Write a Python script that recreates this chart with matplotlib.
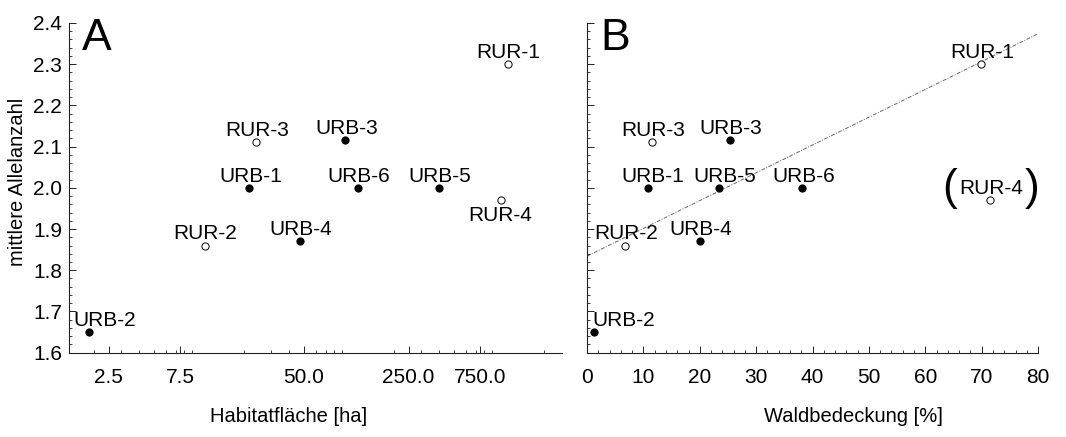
import matplotlib
matplotlib.use("Agg")
from matplotlib import pyplot as plt
from matplotlib.ticker import FixedLocator, FixedFormatter, LogLocator, MultipleLocator, NullFormatter
import numpy as np

plt.rcParams['font.family'] = ['Liberation Sans', 'DejaVu Sans']

# Sites and their values
sites = ['URB-2', 'RUR-2', 'RUR-3', 'URB-1', 'URB-4', 'URB-3', 'URB-6', 'URB-5', 'RUR-4', 'RUR-1']
area_ha = [1.85, 10.9, 24.0, 21.7, 47.3, 94.8, 114.7, 398.0, 1024.0, 1140.0]
forest_pct = [1.3, 6.8, 11.5, 10.8, 20.0, 25.4, 38.2, 23.4, 71.5, 69.9]
alleles = [1.65, 1.86, 2.11, 2.0, 1.87, 2.115, 2.0, 2.0, 1.97, 2.30]

area_ticks = [2.5, 7.5, 50.0, 250.0, 750.0]
area_ticklabels = ['2.5', '7.5', '50.0', '250.0', '750.0']
outlier = 'RUR-4'   # left out of the regression in B

# label offsets (points) where they differ from the default (above, centred)
offs_a = {'URB-2': (-11, 4, 'left', 'baseline'), 'RUR-4': (0, -4, 'center', 'top')}
offs_b = {'URB-2': (-1.5, 4, 'left', 'baseline'), 'URB-1': (3.5, 4.5, 'center', 'baseline'),
          'URB-5': (4.3, 4.5, 'center', 'baseline')}

fig = plt.figure(figsize=(10.66, 4.37), dpi=100)
ax1 = fig.add_axes([0.0647, 0.193, 0.4625, 0.7545])
ax2 = fig.add_axes([0.5507, 0.193, 0.4231, 0.7545], sharey=ax1)


def draw_points(ax, xs, offs):
    for s, x, y in zip(sites, xs, alleles):
        rural = s.startswith('RUR')
        ax.plot(x, y, 'o', ms=5.2 if rural else 5.2, mfc='white' if rural else 'black',
                mec='black', mew=0.7, zorder=3)
        dx, dy, ha, va = offs.get(s, (0.7, 4.5, 'center', 'baseline'))
        ax.annotate(s, (x, y), xytext=(dx, dy), textcoords='offset points',
                    ha=ha, va=va, fontsize=15)


for ax in (ax1, ax2):
    for side in ('top', 'right'):
        ax.spines[side].set_visible(False)
    for side in ('left', 'bottom'):
        ax.spines[side].set_linewidth(0.8)
        ax.spines[side].set_color('#222222')
    ax.tick_params(which='both', direction='in', labelsize=15, colors='#222222', labelcolor='black')
    ax.tick_params(which='major', length=5, width=0.7)
    ax.tick_params(which='minor', length=2.5, width=0.6)

# Panel A: habitat area (log)
draw_points(ax1, area_ha, offs_a)
ax1.set_xscale('log')
ax1.set_xlim(1.36, 2630)
ax1.xaxis.set_major_locator(FixedLocator(area_ticks))
ax1.xaxis.set_major_formatter(FixedFormatter(area_ticklabels))
ax1.xaxis.set_minor_locator(LogLocator(base=10, subs=np.arange(2, 10)))
ax1.xaxis.set_minor_formatter(NullFormatter())
ax1.set_ylim(1.6, 2.4)
ax1.yaxis.set_major_locator(MultipleLocator(0.1))
ax1.yaxis.set_minor_locator(MultipleLocator(0.02))
ax1.tick_params(axis='x', pad=11)
ax1.tick_params(axis='y', pad=5)
ax1.set_xlabel('Habitatfläche [ha]', fontsize=14.5)
ax1.xaxis.set_label_coords(0.446, -0.165)
ax1.set_ylabel('mittlere Allelanzahl', fontsize=14.5)
ax1.yaxis.set_label_coords(-0.086, 0.519)
ax1.text(0.026, 1.015, 'A', transform=ax1.transAxes, fontsize=32, va='top', ha='left')

# Panel B: forest cover with regression (without RUR-4)
draw_points(ax2, forest_pct, offs_b)
keep = [i for i, s in enumerate(sites) if s != outlier]
m, b = np.polyfit(np.array(forest_pct)[keep], np.array(alleles)[keep], 1)
xl = np.array([0, 80])
ax2.plot(xl, m * xl + b, color='#666666', lw=0.7, ls=(0, (4, 1.5, 1, 1.5)), zorder=1)
i4 = sites.index(outlier)
for ch, dx in (('(', -29), (')', 30)):
    ax2.annotate(ch, (forest_pct[i4], alleles[i4]), xytext=(dx, 8.5), textcoords='offset points',
                 ha='center', va='center', fontsize=32)
ax2.set_xlim(0, 80)
ax2.xaxis.set_major_locator(MultipleLocator(10))
ax2.xaxis.set_minor_locator(MultipleLocator(2))
ax2.tick_params(axis='x', pad=11)
ax2.tick_params(axis='y', labelleft=False)
ax2.set_xlabel('Waldbedeckung [%]', fontsize=14.5)
ax2.xaxis.set_label_coords(0.59, -0.165)
ax2.text(0.03, 1.015, 'B', transform=ax2.transAxes, fontsize=32, va='top', ha='left')

fig.savefig('out.png', dpi=100)
